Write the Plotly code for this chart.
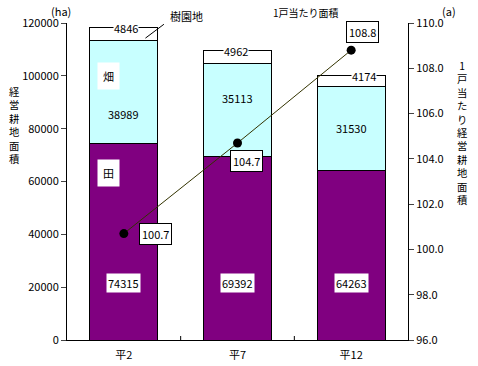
import plotly.graph_objects as go

categories = ["平2", "平7", "平12"]
ta = [74315, 69392, 64263]          # 田
hata = [38989, 35113, 31530]        # 畑
juen = [4846, 4962, 4174]           # 樹園地
per_house = [100.7, 104.7, 108.8]   # 1戸当たり面積 (a)

left_ticks = [0, 20000, 40000, 60000, 80000, 100000, 120000]
right_ticks = [96.0, 98.0, 100.0, 102.0, 104.0, 106.0, 108.0, 110.0]

FONT = "Noto Sans CJK JP"
W, H = 478, 366
L, R, T, B = 67, W - 408, 23, H - 340
PW, PH = W - L - R, H - T - B


def px(xp):   # page pixel x -> paper
    return (xp - L) / PW


def py(yp):   # page pixel y -> paper
    return 1 - (yp - T) / PH


fig = go.Figure()
xs = [0, 1, 2]
fig.add_bar(x=xs, y=ta, marker=dict(color="#800080", line=dict(color="black", width=1)), name="田")
fig.add_bar(x=xs, y=hata, marker=dict(color="#C8FFFF", line=dict(color="black", width=1)), name="畑")
fig.add_bar(x=xs, y=juen, marker=dict(color="white", line=dict(color="black", width=1)), name="樹園地")
fig.add_scatter(x=xs, y=per_house, yaxis="y2", mode="lines+markers",
                line=dict(color="#333300", width=1),
                marker=dict(color="black", size=9, symbol="circle"), name="1戸当たり面積")

f11 = dict(size=11, color="black", family=FONT)
ann = []
# bottom (田) labels
for i, v in enumerate(ta):
    ann.append(dict(x=i, y=0, xref="x", yref="y", text=str(v), showarrow=False,
                    yshift=57, bgcolor="white", font=f11))
# 畑 labels
mid_dy = [-22, 12, 1]
for i, v in enumerate(hata):
    ann.append(dict(x=i, y=ta[i] + hata[i] / 2, xref="x", yref="y", text=str(v), showarrow=False,
                    yshift=mid_dy[i], font=f11))
# 樹園地 labels at top edge
top_dx = [2, -2, 13]
for i, v in enumerate(juen):
    ann.append(dict(x=i, y=ta[i] + hata[i] + juen[i], xref="x", yref="y", text=str(v), showarrow=False,
                    xshift=top_dx[i], bgcolor="white", borderpad=0, font=f11))
# line labels
shifts = [(32, 0), (9, -18), (11, 18)]
for i, v in enumerate(per_house):
    ann.append(dict(x=i, y=v, xref="x", yref="y2", text=f"{v:.1f}", showarrow=False,
                    xshift=shifts[i][0], yshift=shifts[i][1],
                    bgcolor="white", bordercolor="black", borderwidth=1, borderpad=2, font=f11))
# category name labels
ann.append(dict(x=0, y=ta[0] + hata[0] * 0.655, xref="x", yref="y", text="畑", showarrow=False,
                xshift=-15, bgcolor="white", borderpad=5, font=f11))
ann.append(dict(x=0, y=ta[0] * 0.85, xref="x", yref="y", text="田", showarrow=False,
                xshift=-15, bgcolor="white", borderpad=5, font=f11))
ann.append(dict(x=0.19, y=ta[0] + hata[0] + juen[0] * 0.2, xref="x", yref="y", ax=20, ay=-15,
                text="", showarrow=True, arrowhead=0, arrowwidth=1, arrowcolor="black"))


def page_text(text, xp, yp, font):
    ann.append(dict(x=px(xp), y=py(yp), xref="paper", yref="paper", text=text, showarrow=False,
                    xanchor="center", yanchor="middle", font=font))


page_text("樹園地", 186, 16, f11)
page_text("1戸当たり面積", 306, 13, dict(size=10, color="black", family=FONT))
page_text("(ha)", 61, 11, f11)
page_text("(a)", 449, 11, f11)
# vertical axis titles
fv = dict(size=10.3, color="black", family=FONT)
page_text("<br>".join("経営耕地面積"), 14, 125, fv)
page_text("<br>".join("1戸当たり経営耕地面積"), 462, 132, fv)

# small inside ticks at category boundaries
shapes = [dict(type="line", xref="x", yref="y", x0=b, x1=b, y0=0, y1=4, ysizemode="pixel",
               yanchor=0, line=dict(color="black", width=1)) for b in (0.5, 1.5)]

fig.update_layout(
    barmode="stack", bargap=0.4, width=W, height=H, showlegend=False,
    plot_bgcolor="white", paper_bgcolor="white",
    margin=dict(l=L, r=R, t=T, b=B),
    font=dict(family=FONT, size=11, color="black"),
    xaxis=dict(tickmode="array", tickvals=xs, ticktext=categories, range=[-0.5, 2.5],
               showline=True, linecolor="black", linewidth=1, ticks="outside", ticklen=5,
               tickcolor="rgba(0,0,0,0)", automargin=False,
               showgrid=False, zeroline=False, tickfont=dict(size=11)),
    yaxis=dict(range=[0, 120000], tickvals=left_ticks, ticktext=[str(t) for t in left_ticks],
               showline=True, linecolor="black", linewidth=1, ticks="outside", ticklen=5,
               automargin=False, showgrid=False, zeroline=False, tickfont=dict(size=11)),
    yaxis2=dict(range=[96, 110], overlaying="y", side="right", tickvals=right_ticks,
                ticktext=[f"{t:.1f}" for t in right_ticks], automargin=False,
                showline=True, linecolor="black", linewidth=1, ticks="outside", ticklen=5,
                showgrid=False, zeroline=False, tickfont=dict(size=11)),
    annotations=ann,
    shapes=shapes,
)
# remove the browser's default 8px body margin so the figure fills the window
fig.write_html("out.html", config={"displayModeBar": False},
               post_script="document.body.style.margin='0';document.body.style.overflow='hidden';")
